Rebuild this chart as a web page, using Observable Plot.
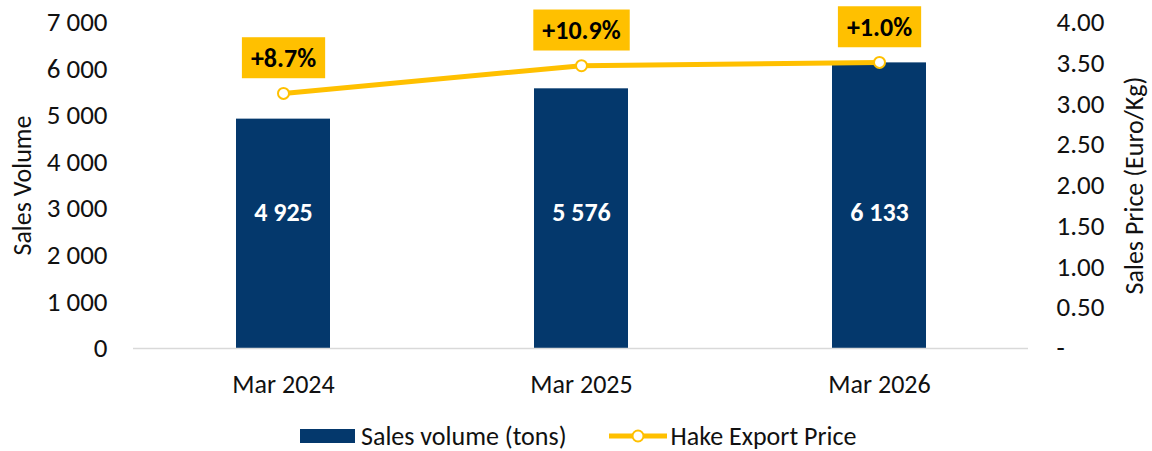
<!DOCTYPE html>
<html>
<head>
<meta charset="utf-8">
<script src="https://cdn.jsdelivr.net/npm/d3@7"></script>
<script src="https://cdn.jsdelivr.net/npm/@observablehq/plot@0.6"></script>
<style>
  html, body { margin: 0; padding: 0; background: #fff; }
  body { width: 1152px; height: 451px; overflow: hidden; position: relative; font-family: Carlito, Lato, sans-serif; }
  #legend { position: absolute; left: 300px; top: 422px; height: 28px; line-height: 28px; display: flex; align-items: center; font-size: 26px; color: #111; white-space: nowrap; }
  #legend .item { display: flex; align-items: center; }
  #legend svg { display: block; }
</style>
</head>
<body>
<div id="chart"></div>
<div id="legend"></div>
<script>
const categories = ["Mar 2024", "Mar 2025", "Mar 2026"];
const volumes = [4925, 5576, 6133];
const prices = [3.13, 3.47, 3.51];
const priceChanges = ["+8.7%", "+10.9%", "+1.0%"];
const volumeTicks = [0, 1000, 2000, 3000, 4000, 5000, 6000, 7000];
const priceTicks = [0, 0.5, 1, 1.5, 2, 2.5, 3, 3.5, 4];
const seriesNames = ["Sales volume (tons)", "Hake Export Price"];
const axisTitles = ["Sales Volume", "Sales Price (Euro/Kg)"];

const NAVY = "#04386C";
const GOLD = "#FFC000";
const FONT = "Carlito, Lato, sans-serif";
const k = 7000 / 4; // price -> volume axis scale
const fmt = d3.formatLocale({thousands: " ", grouping: [3], decimal: "."}).format(",d");

const data = categories.map((c, i) => ({cat: c, volume: volumes[i], price: prices[i], pk: prices[i] * k, change: priceChanges[i]}));

const chart = Plot.plot({
  width: 1152,
  height: 410,
  marginTop: 22,
  marginBottom: 62,
  marginLeft: 133,
  marginRight: 124,
  style: {fontFamily: FONT, color: "#111", background: "#fff"},
  x: {domain: categories, paddingInner: 0.685, paddingOuter: 0.3425, label: null},
  y: {domain: [0, 7000], label: null},
  marks: [
    Plot.barY(data, {x: "cat", y: "volume", fill: NAVY}),
    Plot.ruleY([0], {stroke: "#d9d9d9", strokeWidth: 1.5}),
    Plot.text(data, {x: "cat", text: d => fmt(d.volume), frameAnchor: "middle", dy: 27, fill: "#fff", fontSize: 26, fontWeight: "bold"}),
    Plot.line(data, {x: "cat", y: "pk", stroke: GOLD, strokeWidth: 5}),
    Plot.dot(data, {x: "cat", y: "pk", r: 5.5, fill: "#fff", stroke: GOLD, strokeWidth: 2}),
    Plot.text(data, {x: "cat", y: "pk", text: "change", dy: -35, fill: "#000", fontSize: 26, fontWeight: "bold", className: "pct"}),
    Plot.axisY(volumeTicks, {anchor: "left", tickSize: 0, tickPadding: 26, tickFormat: fmt, fontSize: 27, label: null}),
    Plot.axisY(priceTicks.map(p => p * k), {anchor: "right", tickSize: 0, tickPadding: 28, tickFormat: d => d === 0 ? "-" : (d / k).toFixed(2), fontSize: 27, label: null}),
    Plot.axisX({tickSize: 0, tickPadding: 26, fontSize: 26, label: null}),
    Plot.text([axisTitles[0]], {text: d => d, frameAnchor: "left", textAnchor: "middle", rotate: -90, dx: -111, fontSize: 26}),
    Plot.text([axisTitles[1]], {text: d => d, frameAnchor: "right", textAnchor: "middle", rotate: -90, dx: 106, fontSize: 26})
  ]
});
document.getElementById("chart").append(chart);

// gold boxes behind the percentage labels
const root = chart.tagName.toLowerCase() === "svg" ? chart : chart.querySelector("svg");
d3.select(root).selectAll("g.pct text").each(function() {
  const bb = this.getBBox();
  const padX = 9, padY = 4.5;
  d3.select(this.parentNode).insert("rect", () => this)
    .attr("transform", this.getAttribute("transform"))
    .attr("x", bb.x - padX).attr("y", bb.y - padY)
    .attr("width", bb.width + 2 * padX).attr("height", bb.height + 2 * padY)
    .attr("fill", GOLD);
});

// legend
const legend = d3.select("#legend");
const it1 = legend.append("div").attr("class", "item");
it1.append("svg").attr("width", 55).attr("height", 14).style("margin-right", "6px")
  .append("rect").attr("width", 55).attr("height", 14).attr("fill", NAVY);
it1.append("span").text(seriesNames[0]);
const it2 = legend.append("div").attr("class", "item").style("margin-left", "42px");
const s2 = it2.append("svg").attr("width", 58).attr("height", 16).style("margin-right", "4px");
s2.append("line").attr("x1", 0).attr("x2", 58).attr("y1", 8).attr("y2", 8).attr("stroke", GOLD).attr("stroke-width", 5);
s2.append("circle").attr("cx", 29).attr("cy", 8).attr("r", 5.5).attr("fill", "#fff").attr("stroke", GOLD).attr("stroke-width", 2);
it2.append("span").text(seriesNames[1]);
</script>
</body>
</html>
